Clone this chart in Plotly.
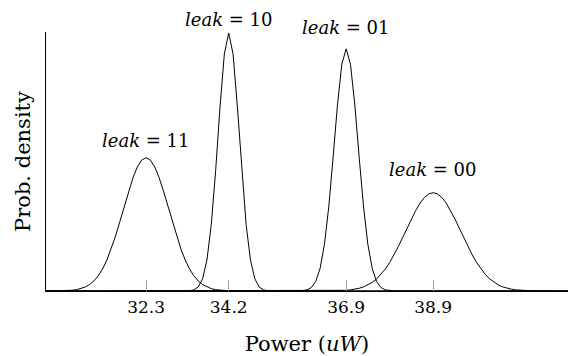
import numpy as np
import plotly.graph_objects as go

# ---- data ----
leak_labels = ["11", "10", "01", "00"]
means = [32.3, 34.2, 36.9, 38.9]            # uW
sigmas = [0.527, 0.243, 0.275, 0.635]       # uW
peak_density = [0.808, 1.564, 1.468, 0.596] # relative prob. density at the mean
tick_vals = [32.3, 34.2, 36.9, 38.9]
tick_text = ["32.3", "34.2", "36.9", "38.9"]

# ---- layout-only settings ----
label_yshift = [4.5, 1, 9, 10.5]
FONT = "DejaVu Serif"

x = np.linspace(30, 42, 121)

fig = go.Figure()
for lab, m, s, p in zip(leak_labels, means, sigmas, peak_density):
    y = p * np.exp(-0.5 * ((x - m) / s) ** 2)
    fig.add_trace(go.Scatter(
        x=x, y=y, mode="lines", line=dict(color="black", width=1),
        cliponaxis=False, showlegend=False, hoverinfo="skip", name=f"leak = {lab}"))

for lab, m, p, ys in zip(leak_labels, means, peak_density, label_yshift):
    fig.add_annotation(
        x=m, y=p, xref="x", yref="y", text=f"<i>leak</i> = {lab}",
        showarrow=False, xanchor="center", yanchor="bottom", yshift=ys,
        font=dict(family=FONT, size=18, color="black"))

fig.update_layout(
    width=568, height=356,
    margin=dict(l=46, r=0, t=32, b=65),
    paper_bgcolor="white", plot_bgcolor="white",
    font=dict(family=FONT, color="black"),
    xaxis=dict(
        range=[30, 42], showline=True, linecolor="black", linewidth=1.4,
        ticks="inside", ticklen=11, tickwidth=1, tickcolor="#a0a0a0",
        tickvals=tick_vals, ticktext=tick_text,
        tickfont=dict(family=FONT, size=17, color="black"),
        showgrid=False, zeroline=False,
        title=dict(text="Power (<i>uW</i>)", font=dict(family=FONT, size=21, color="black"), standoff=22),
    ),
    yaxis=dict(
        range=[0, 1.57], showline=True, linecolor="black", linewidth=1,
        ticks="", showticklabels=False, showgrid=False, zeroline=False,
        title=dict(text="Prob. density", font=dict(family=FONT, size=21, color="black"), standoff=8),
    ),
)

fig.write_html("out.html")
